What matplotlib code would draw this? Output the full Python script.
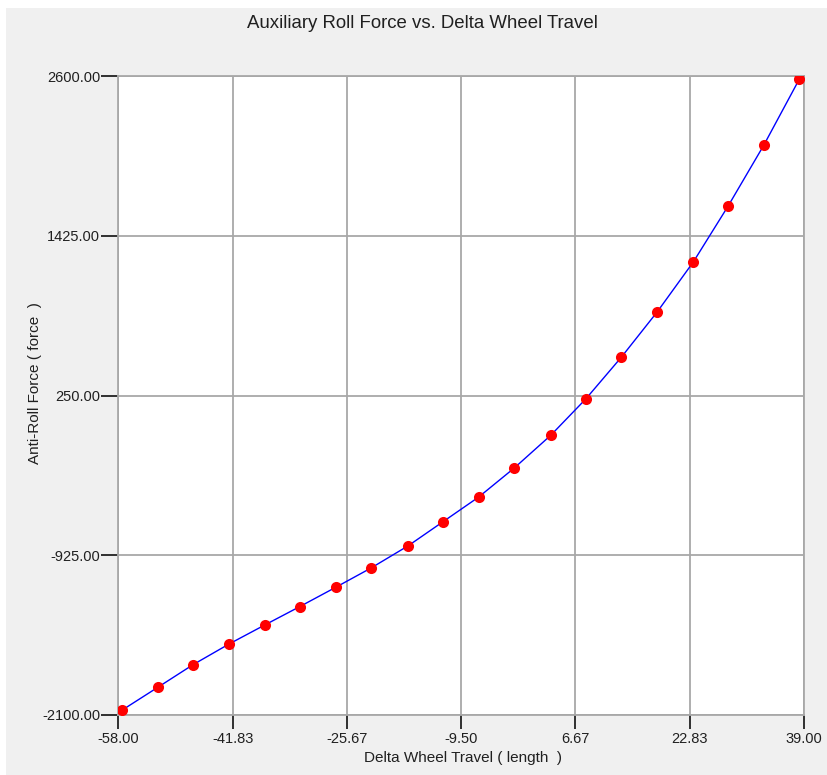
# import packages
import matplotlib.pyplot as plt
from matplotlib.patches import Rectangle

# Chart data
wheel_travel = [-57.43, -52.34, -47.43, -42.34, -37.21, -32.34, -27.25, -22.25,
                -16.98, -12.11, -7.02, -1.98, 3.17, 8.12, 13.15, 18.25,
                23.34, 28.25, 33.30, 38.33]
roll_force = [-2063, -1894, -1730, -1578, -1436, -1303, -1161, -1019,
              -855, -680, -497, -283, -43, 224, 531, 866,
              1232, 1642, 2090, 2576]

x_ticks = [-58.00, -41.83, -25.67, -9.50, 6.67, 22.83, 39.00]
y_ticks = [-2100.00, -925.00, 250.00, 1425.00, 2600.00]

plt.rcParams['font.family'] = ['Liberation Sans', 'DejaVu Sans']

fig = plt.figure(figsize=(8.28, 7.75), dpi=100)
fig.patch.set_facecolor('white')

# Gray window background (thin white border at top and left)
fig.patches.append(Rectangle((6 / 828, 0), 1, 1 - 8 / 775,
                             transform=fig.transFigure,
                             facecolor='#f0f0f0', edgecolor='none', zorder=-10))

ax = fig.add_axes([118.3 / 828, 60 / 775, (804 - 118.3) / 828, (715 - 76) / 775])
ax.set_facecolor('white')

# Curve and markers
ax.plot(wheel_travel, roll_force, color='#0000ff', linewidth=1.0, zorder=3)
ax.plot(wheel_travel, roll_force, 'o', color='#ff0000', markersize=8,
        markeredgewidth=0, zorder=4)

ax.set_xlim(x_ticks[0], x_ticks[-1])
ax.set_ylim(y_ticks[0], y_ticks[-1])
ax.set_xticks(x_ticks)
ax.set_yticks(y_ticks)
ax.set_xticklabels([f"{v:.2f}" for v in x_ticks])
ax.set_yticklabels([f"{v:.2f}" for v in y_ticks])

# Grid and frame
ax.grid(True, color='#a8a8a8', linewidth=1.3)
ax.set_axisbelow(True)
for side in ax.spines.values():
    side.set_color('#a8a8a8')
    side.set_linewidth(1.3)

ax.tick_params(axis='x', length=10, width=1.3, color='#202020', pad=2,
               labelsize=10.5, labelcolor='#202020')
ax.tick_params(axis='y', length=12, width=1.3, color='#202020', pad=1,
               labelsize=10.5, labelcolor='#202020')

# Title centred on the window, not the plot box
fig.text(422 / 828, 1 - 23 / 775, 'Auxiliary Roll Force vs. Delta Wheel Travel',
         fontsize=13.4, color='#202020', ha='center', va='center')

ax.set_xlabel('Delta Wheel Travel ( length  )', fontsize=11, color='#202020')
ax.set_ylabel('Anti-Roll Force ( force  )', fontsize=11, color='#202020')
ax.xaxis.set_label_coords(0.5027, -0.0563)
ax.yaxis.set_label_coords(-0.112, 0.5196)

plt.savefig('out.png', dpi=100)
